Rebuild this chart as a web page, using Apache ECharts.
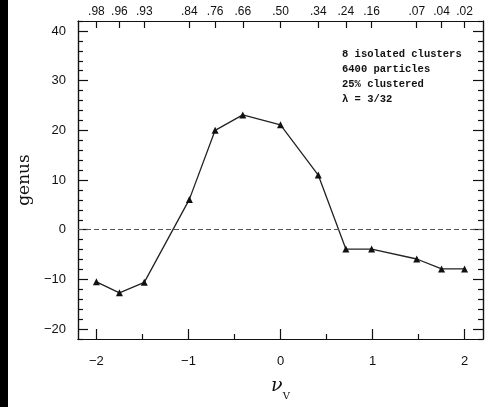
<!DOCTYPE html>
<html>
<head>
<meta charset="utf-8">
<script src="https://cdn.jsdelivr.net/npm/echarts@6/dist/echarts.min.js"></script>
<style>
  html, body { margin: 0; padding: 0; background: #fff; }
  #main { width: 485px; height: 407px; }
</style>
</head>
<body>
<div id="main"></div>
<script>
// genus curve
var nu = [-2.0, -1.75, -1.48, -0.99, -0.71, -0.41, 0, 0.41, 0.71, 0.99, 1.48, 1.75, 2.0];
var genus = [-10.5, -12.7, -10.6, 6.1, 20.0, 23.1, 21.1, 11.0, -3.9, -3.9, -5.9, -7.9, -7.9];
// top axis: volume fraction labels
var fracLabels = ['.98', '.96', '.93', '.84', '.76', '.66', '.50', '.34', '.24', '.16', '.07', '.04', '.02'];
var xMajor = [-2, -1, 0, 1, 2];
var xMinor = [-1.5, -0.5, 0.5, 1.5];
var yMajor = [-20, -10, 0, 10, 20, 30, 40];
var yMinor = [-22, -18, -16, -14, -12, -8, -6, -4, -2, 2, 4, 6, 8, 12, 14, 16, 18, 22, 24, 26, 28, 32, 34, 36, 38, 42];
var notes = ['8 isolated clusters', '6400 particles', '25% clustered', 'λ = 3/32'];

var chart = echarts.init(document.getElementById('main'), null, { renderer: 'canvas' });

function minus(v) {
  return String(v).replace('-', '\u2212');
}

var lineStyle = { color: '#111', width: 1.2 };
var labelFont = { color: '#111', fontFamily: 'Liberation Sans', fontSize: 13 };

function xAxisOf(pos, ticks, len, withLabel) {
  return {
    type: 'value', position: pos, min: -2.2, max: 2.2,
    axisLine: { show: true, onZero: false, lineStyle: lineStyle },
    axisTick: { show: true, inside: true, length: len, customValues: ticks, lineStyle: lineStyle },
    axisLabel: withLabel,
    splitLine: { show: false }
  };
}
function yAxisOf(pos, ticks, len, withLabel) {
  return {
    type: 'value', position: pos, min: -22, max: 42,
    axisLine: { show: true, onZero: false, lineStyle: lineStyle },
    axisTick: { show: true, inside: true, length: len, customValues: ticks, lineStyle: lineStyle },
    axisLabel: withLabel,
    splitLine: { show: false }
  };
}

var xBottom = xAxisOf('bottom', xMajor, 10, Object.assign({
  show: true, customValues: xMajor, margin: 16, formatter: minus
}, labelFont));
xBottom.name = '{n|ν}{s|V}';
xBottom.nameLocation = 'middle';
xBottom.nameGap = 38;
xBottom.nameTextStyle = {
  rich: {
    n: { fontFamily: 'DejaVu Serif', fontStyle: 'italic', fontSize: 19, color: '#111', verticalAlign: 'top', lineHeight: 24 },
    s: { fontFamily: 'DejaVu Serif', fontSize: 10, color: '#111', verticalAlign: 'bottom', lineHeight: 24 }
  }
};

var xTop = xAxisOf('top', nu, 7, Object.assign({
  show: true, customValues: nu, margin: 3,
  formatter: function (v) {
    for (var i = 0; i < nu.length; i++) {
      if (Math.abs(nu[i] - v) < 1e-6) return fracLabels[i];
    }
    return '';
  }
}, labelFont, { fontSize: 12 }));

var yLeft = yAxisOf('left', yMajor, 10, Object.assign({
  show: true, customValues: yMajor, margin: 12, formatter: minus
}, labelFont));
yLeft.name = 'genus';
yLeft.nameLocation = 'middle';
yLeft.nameGap = 32;
yLeft.nameTextStyle = { fontFamily: 'DejaVu Serif', fontSize: 17, color: '#111' };

var option = {
  backgroundColor: '#ffffff',
  animation: false,
  grid: { left: 78, right: 2, top: 21, bottom: 68 },
  xAxis: [
    xBottom,
    xAxisOf('bottom', xMinor, 5, { show: false }),
    xTop
  ],
  yAxis: [
    yLeft,
    yAxisOf('left', yMinor, 5, { show: false }),
    yAxisOf('right', yMajor, 10, { show: false }),
    yAxisOf('right', yMinor, 5, { show: false })
  ],
  graphic: [
    {
      type: 'rect', left: 0, top: 0, silent: true,
      shape: { width: 8, height: 407 },
      style: { fill: '#000' }
    },
    {
      type: 'text', left: 342, top: 47, silent: true,
      style: {
        text: notes.join('\n'),
        fill: '#111', font: 'bold 10.5px "Liberation Mono"', lineHeight: 15
      }
    }
  ],
  series: [{
    type: 'line',
    xAxisIndex: 0,
    yAxisIndex: 0,
    data: nu.map(function (x, i) { return [x, genus[i]]; }),
    symbol: 'triangle',
    symbolSize: 7,
    itemStyle: { color: '#111' },
    lineStyle: { color: '#222', width: 1.3 },
    markLine: {
      silent: true,
      symbol: 'none',
      label: { show: false },
      lineStyle: { color: '#555', type: [5, 3], width: 1 },
      data: [{ yAxis: 0 }]
    }
  }]
};

chart.setOption(option);
</script>
</body>
</html>
